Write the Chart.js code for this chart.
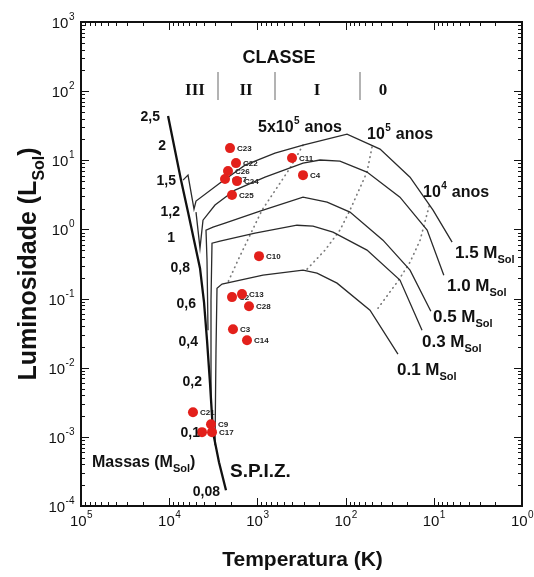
<!DOCTYPE html>
<html>
<head>
<meta charset="utf-8">
<script src="https://cdn.jsdelivr.net/npm/chart.js@4.4.1/dist/chart.umd.min.js"></script>
<style>
  html, body { margin: 0; padding: 0; background: #fff; }
  #wrap { width: 534px; height: 577px; }
</style>
</head>
<body>
<div id="wrap"><canvas id="hr" width="534" height="577"></canvas></div>
<script>
// values: temperature in K, luminosity in L_sol

// S.P.I.Z. (birthline)
const spizT = [10300, 7350, 6120, 5230, 4475, 4030, 3727, 3447, 3187, 2725, 2270];
const spizL = [43.6, 5.17, 1.78, 0.70, 0.275, 0.0887, 0.025, 0.00597, 0.00117, 0.000429, 0.000169];

// evolutionary tracks
const track15T = [6.2, 10.2, 18.6, 40.7, 96.4, 304, 632, 1382, 2655, 4967, 5233, 6120, 6975];
const track15L = [0.655, 1.90, 5.7, 14.5, 23.9, 16.6, 12.7, 8.5, 4.68, 2.57, 1.97, 6.1, 5.17];

const track10T = [7.7, 11.9, 24.2, 57.2, 116, 195, 304, 820, 1795, 3025, 4138, 4475, 4967];
const track10L = [0.218, 0.977, 2.93, 6.75, 9.7, 10.1, 9.1, 5.7, 3.71, 2.25, 1.36, 0.536, 1.78];

const track05T = [10.8, 18.6, 37.7, 89.2, 162, 304, 934, 2330, 3187, 3826, 3727, 3631];
const track05L = [0.0657, 0.258, 0.700, 1.78, 2.48, 2.93, 1.84, 1.23, 1.08, 0.977, 0.359, 0.0349];

const track03T = [13.6, 24.2, 57.2, 139, 234, 356, 1065, 2655, 3271, 3358, 3358];
const track03L = [0.0349, 0.185, 0.502, 0.914, 1.12, 1.15, 0.884, 0.677, 0.633, 0.0948, 0.00339];

const track01T = [25.5, 52.9, 125, 211, 304, 864, 2520, 2871, 2947, 3025];
const track01L = [0.0157, 0.0679, 0.167, 0.233, 0.258, 0.218, 0.162, 0.141, 0.0179, 0.000756];

// isochrones (dotted)
const iso5e5T = [304, 427, 887, 1213, 1660, 2154];
const iso5e5L = [16.6, 7.7, 1.90, 0.827, 0.359, 0.173];
const iso1e5T = [50.2, 57.2, 89.2, 116, 171, 274];
const iso1e5L = [15.5, 6.75, 1.90, 0.977, 0.502, 0.266];
const iso1e4T = [11.3, 14.3, 18.6, 25.5, 42.9];
const iso1e4L = [2.17, 0.700, 0.336, 0.179, 0.0726];

// cores
const coreNames = ["C23", "C22", "C26", "C27", "C24", "C25", "C11", "C4", "C10", "C2", "C13", "C28", "C3", "C14", "C21", "C9", "", "C17"];
const coreT = [2045, 1748, 2154, 2330, 1703, 1941, 405, 304, 959, 1941, 1495, 1245, 1891, 1312, 5373, 3358, 4247, 3271];
const coreL = [15.0, 9.1, 6.98, 5.35, 5.0, 3.14, 10.8, 6.1, 0.411, 0.105, 0.116, 0.0776, 0.0361, 0.0250, 0.00227, 0.00152, 0.00117, 0.00117];

// axis tick labels (powers of ten)
const xExps = [5, 4, 3, 2, 1, 0];
const yExps = [3, 2, 1, 0, -1, -2, -3, -4];

// mass marks along the S.P.I.Z.
const massMarks = ["2,5", "2", "1,5", "1,2", "1", "0,8", "0,6", "0,4", "0,2", "0,1", "0,08"];


const SANS = '"Liberation Sans", Arial, sans-serif';
const SERIF = '"Liberation Serif", "Times New Roman", serif';

function pts(T, L) {
  return T.map((t, i) => ({ x: t, y: L[i] }));
}

function trackSet(T, L) {
  return {
    data: pts(T, L), showLine: true, pointRadius: 0,
    borderColor: "#2a2a2a", borderWidth: 1.3, fill: false, tension: 0
  };
}

function isoSet(T, L) {
  return {
    data: pts(T, L), showLine: true, pointRadius: 0,
    borderColor: "#7a7a7a", borderWidth: 1.7, borderDash: [0.5, 4.5],
    borderCapStyle: "round", fill: false, tension: 0
  };
}

// "10" with raised exponent
function drawPow(ctx, exp, x, y, align) {
  ctx.font = "15px " + SANS;
  const wb = ctx.measureText("10").width;
  ctx.font = "10px " + SANS;
  const we = ctx.measureText(String(exp)).width;
  let x0 = x;
  if (align === "center") x0 = x - (wb + we) / 2;
  if (align === "right") x0 = x - (wb + we);
  ctx.textAlign = "left";
  ctx.textBaseline = "alphabetic";
  ctx.font = "15px " + SANS;
  ctx.fillText("10", x0, y);
  ctx.font = "10px " + SANS;
  ctx.fillText(String(exp), x0 + wb + 0.5, y - 8);
}

// text + subscript + tail
function drawSub(ctx, main, sub, tail, x, y, size, subSize) {
  ctx.textAlign = "left";
  ctx.textBaseline = "alphabetic";
  ctx.font = "bold " + size + "px " + SANS;
  ctx.fillText(main, x, y);
  let cx = x + ctx.measureText(main).width;
  ctx.font = "bold " + subSize + "px " + SANS;
  ctx.fillText(sub, cx, y + Math.round(size * 0.3));
  cx += ctx.measureText(sub).width;
  ctx.font = "bold " + size + "px " + SANS;
  ctx.fillText(tail, cx, y);
  return cx + ctx.measureText(tail).width;
}

function subWidth(ctx, main, sub, tail, size, subSize) {
  ctx.font = "bold " + size + "px " + SANS;
  let w = ctx.measureText(main).width + ctx.measureText(tail).width;
  ctx.font = "bold " + subSize + "px " + SANS;
  return w + ctx.measureText(sub).width;
}

// "5x10^5 anos" style labels
function drawAge(ctx, pre, exp, post, x, y) {
  ctx.textAlign = "left";
  ctx.textBaseline = "alphabetic";
  ctx.font = "bold 16px " + SANS;
  ctx.fillText(pre, x, y);
  let cx = x + ctx.measureText(pre).width;
  ctx.font = "bold 10px " + SANS;
  ctx.fillText(exp, cx + 0.5, y - 8);
  cx += ctx.measureText(exp).width + 1;
  ctx.font = "bold 16px " + SANS;
  ctx.fillText(post, cx, y);
}

// core labels go under the dots, like in the figure
const coreLabels = {
  id: "coreLabels",
  beforeDatasetsDraw(chart) {
    const { ctx, scales: { x, y } } = chart;
    ctx.save();
    ctx.fillStyle = "#222";
    ctx.font = "bold 8px " + SANS;
    ctx.textAlign = "left";
    ctx.textBaseline = "middle";
    coreNames.forEach((n, i) => {
      if (!n) return;
      ctx.fillText(n, x.getPixelForValue(coreT[i]) + 7, y.getPixelForValue(coreL[i]) + 0.5);
    });
    ctx.restore();
  }
};

const frame = {
  id: "frame",
  afterDraw(chart) {
    const { ctx, chartArea: a, scales: { x, y } } = chart;
    ctx.save();
    ctx.strokeStyle = "#111";
    ctx.fillStyle = "#111";

    // inward ticks on all four sides
    ctx.lineWidth = 1;
    for (let e = 0; e <= 5; e++) {
      for (let m = 1; m <= 9; m++) {
        if (e === 5 && m > 1) break;
        const px = Math.round(x.getPixelForValue(m * Math.pow(10, e))) + 0.5;
        const len = m === 1 ? 8 : 4;
        ctx.beginPath();
        ctx.moveTo(px, a.bottom); ctx.lineTo(px, a.bottom - len);
        ctx.moveTo(px, a.top); ctx.lineTo(px, a.top + len);
        ctx.stroke();
      }
    }
    for (let e = -4; e <= 3; e++) {
      for (let m = 1; m <= 9; m++) {
        if (e === 3 && m > 1) break;
        const py = Math.round(y.getPixelForValue(m * Math.pow(10, e))) + 0.5;
        const len = m === 1 ? 8 : 4;
        ctx.beginPath();
        ctx.moveTo(a.left, py); ctx.lineTo(a.left + len, py);
        ctx.moveTo(a.right, py); ctx.lineTo(a.right - len, py);
        ctx.stroke();
      }
    }

    ctx.lineWidth = 2;
    ctx.strokeRect(a.left, a.top, a.right - a.left, a.bottom - a.top);

    // tick labels
    xExps.forEach(e => drawPow(ctx, e, x.getPixelForValue(Math.pow(10, e)), a.bottom + 20, "center"));
    yExps.forEach(e => drawPow(ctx, e, a.left - 7, y.getPixelForValue(Math.pow(10, e)) + 6, "right"));

    // axis titles
    ctx.font = "bold 21px " + SANS;
    ctx.textAlign = "center";
    ctx.textBaseline = "alphabetic";
    ctx.fillText("Temperatura (K)", (a.left + a.right) / 2 + 1, 566);

    ctx.save();
    ctx.translate(36, (a.top + a.bottom) / 2);
    ctx.rotate(-Math.PI / 2);
    const tw = subWidth(ctx, "Luminosidade (L", "Sol", ")", 25, 16);
    drawSub(ctx, "Luminosidade (L", "Sol", ")", -tw / 2, 0, 25, 16);
    ctx.restore();

    // class header
    ctx.font = "bold 18px " + SANS;
    ctx.textAlign = "center";
    ctx.fillText("CLASSE", 279, 63);
    ctx.font = "bold 17px " + SERIF;
    ctx.fillText("III", 195, 95);
    ctx.fillText("II", 246, 95);
    ctx.fillText("I", 317, 95);
    ctx.fillText("0", 383, 95);
    ctx.strokeStyle = "#9a9a9a";
    ctx.lineWidth = 1.5;
    [218, 275, 360].forEach(sx => {
      ctx.beginPath(); ctx.moveTo(sx, 72); ctx.lineTo(sx, 100); ctx.stroke();
    });

    // isochrone labels
    ctx.fillStyle = "#111";
    drawAge(ctx, "5x10", "5", " anos", 258, 132);
    drawAge(ctx, "10", "5", " anos", 367, 139);
    drawAge(ctx, "10", "4", " anos", 423, 197);

    // track labels
    drawSub(ctx, "1.5 M", "Sol", "", 455, 258, 17, 11);
    drawSub(ctx, "1.0 M", "Sol", "", 447, 291, 17, 11);
    drawSub(ctx, "0.5 M", "Sol", "", 433, 322, 17, 11);
    drawSub(ctx, "0.3 M", "Sol", "", 422, 347, 17, 11);
    drawSub(ctx, "0.1 M", "Sol", "", 397, 375, 17, 11);

    // masses along the S.P.I.Z.
    const massPos = [[160, 117], [166, 146], [176, 181], [180, 212], [175, 238], [190, 268],
                     [196, 304], [198, 342], [202, 382], [200, 433], [220, 492]];
    ctx.font = "bold 14px " + SANS;
    ctx.textAlign = "right";
    ctx.textBaseline = "middle";
    massMarks.forEach((m, i) => ctx.fillText(m, massPos[i][0], massPos[i][1]));

    drawSub(ctx, "Massas (M", "Sol", ")", 92, 467, 16, 11);
    ctx.font = "bold 19px " + SANS;
    ctx.textAlign = "left";
    ctx.textBaseline = "alphabetic";
    ctx.fillText("S.P.I.Z.", 230, 477);

    ctx.restore();
  }
};

const datasets = [
  {
    data: pts(coreT, coreL), showLine: false,
    pointRadius: 5, pointBackgroundColor: "#e3201b", pointBorderWidth: 0
  },
  {
    data: pts(spizT, spizL), showLine: true, pointRadius: 0,
    borderColor: "#111", borderWidth: 2.3, fill: false, tension: 0
  },
  trackSet(track15T, track15L),
  trackSet(track10T, track10L),
  trackSet(track05T, track05L),
  trackSet(track03T, track03L),
  trackSet(track01T, track01L),
  isoSet(iso5e5T, iso5e5L),
  isoSet(iso1e5T, iso1e5L),
  isoSet(iso1e4T, iso1e4L)
];

new Chart(document.getElementById("hr"), {
  type: "scatter",
  data: { datasets },
  options: {
    responsive: false,
    animation: false,
    events: [],
    layout: { padding: { left: 81, right: 12, top: 22, bottom: 71 } },
    scales: {
      x: { type: "logarithmic", reverse: true, min: 1, max: 1e5, display: false },
      y: { type: "logarithmic", min: 1e-4, max: 1e3, display: false }
    },
    plugins: {
      legend: { display: false },
      tooltip: { enabled: false }
    }
  },
  plugins: [coreLabels, frame]
});
</script>
</body>
</html>
